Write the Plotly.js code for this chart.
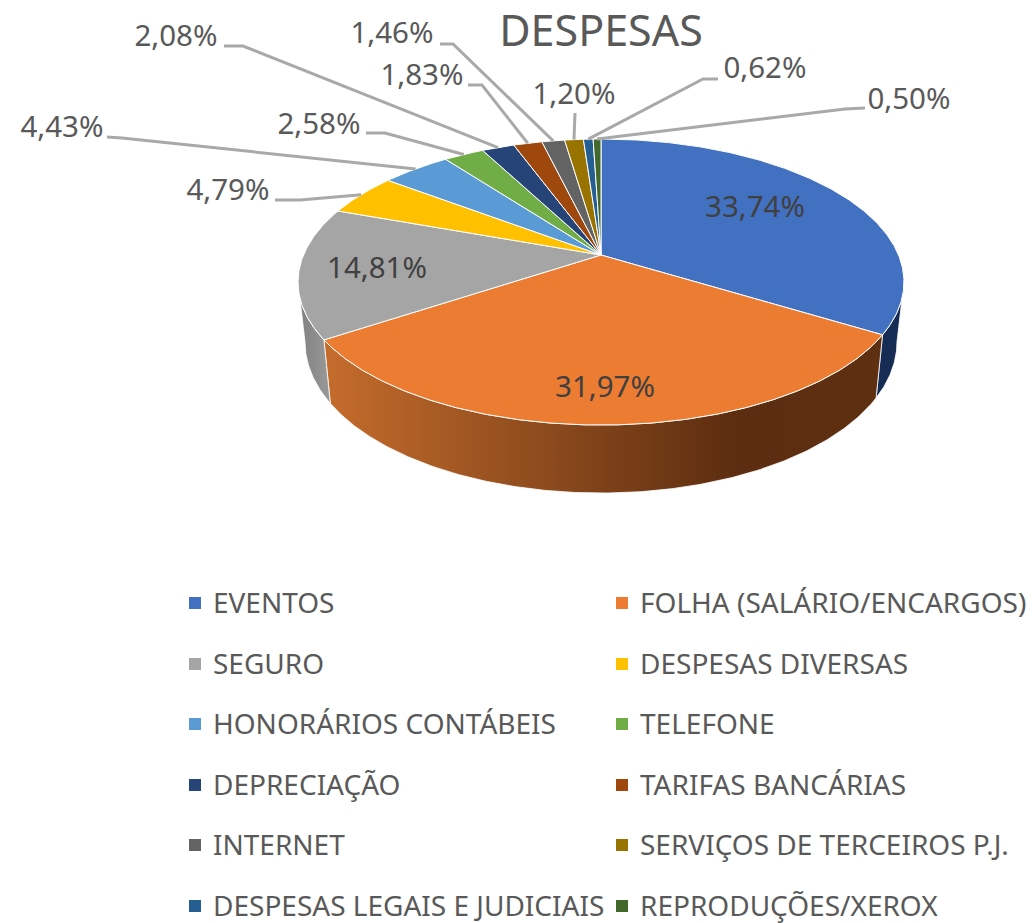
<!DOCTYPE html>
<html>
<head>
<meta charset="utf-8">
<script src="https://cdn.plot.ly/plotly-3.0.1.min.js"></script>
<style>html,body{margin:0;padding:0;background:#fff}#chart{width:1036px;height:923px}</style>
</head>
<body>
<div id="chart"></div>
<script>
// ---- data ----
const categories = ["EVENTOS","FOLHA (SALÁRIO/ENCARGOS)","SEGURO","DESPESAS DIVERSAS","HONORÁRIOS CONTÁBEIS","TELEFONE","DEPRECIAÇÃO","TARIFAS BANCÁRIAS","INTERNET","SERVIÇOS DE TERCEIROS P.J.","DESPESAS LEGAIS E JUDICIAIS","REPRODUÇÕES/XEROX"];
const percentages = [33.74,31.97,14.81,4.79,4.43,2.58,2.08,1.83,1.46,1.20,0.62,0.50];
const colors = ["#4371C2","#EB7C31","#A5A5A5","#FFC000","#5B9BD5","#70AD47","#264478","#9E480E","#636363","#997300","#255E91","#43682B"];

// ---- layout of the drawing ----
const apexX = 601, apexY = 255, scaleX = 297.5, scaleY = 137.9, persp = 0.189;
const labelX = [755,605,377,228,62,319,176,422,392,574,765,909];
const labelY = [210,390,271,193,130,127,39,78,36,97,71,102];
const leaderX = [null,null,null,[275,300],[107,122],[366,385],[224,243],[468,482],[440,453],[575],[718,703],[865,845]];
const leaderY = [null,null,null,[200,200],[137,138],[133,133],[46,46],[85,85],[44,44],[113],[79,79],[108,109]];
const legendColX = [189,616];
const legendRowY = [603,664,724,785,845,906];
const FONT = '"Noto Sans", sans-serif';
const TXT = '#595959';

function project(deg, drop) {
  const t = deg * Math.PI / 180, u = Math.sin(t), v = Math.cos(t), w = 1 + persp * v;
  const depth = drop ? 58 + 10 * Math.max(0, -v) : 0;
  const shrink = drop ? 0.977 : 1;
  return [apexX + shrink * scaleX * u / w, apexY - scaleY * v / w + depth];
}
function arc(a, b, drop) {
  const n = Math.max(2, Math.ceil(Math.abs(b - a) * 2));
  const xs = [], ys = [];
  for (let i = 0; i <= n; i++) {
    const p = project(a + (b - a) * i / n, drop);
    xs.push(p[0]); ys.push(p[1]);
  }
  return [xs, ys];
}

const total = percentages.reduce((s, p) => s + p, 0);
const edges = [0];
percentages.forEach(p => edges.push(edges[edges.length - 1] + p / total * 360));

const traces = [];
const common = {type: 'scatter', mode: 'lines', fill: 'toself', hoverinfo: 'skip', showlegend: false};

// side wall
const silhouette = Math.acos(-persp) * 180 / Math.PI;
function wall(a, b, style) {
  const top = arc(a, b, false), bot = arc(b, a, true);
  traces.push(Object.assign({}, common, {
    x: top[0].concat(bot[0], [top[0][0]]),
    y: top[1].concat(bot[1], [top[1][0]]),
    line: {color: 'rgba(255,255,255,0.8)', width: 1}
  }, style));
}
wall(silhouette, edges[1], {fillcolor: '#172C55'});
wall(edges[1], edges[2], {fillgradient: {type: 'horizontal', colorscale: [[0,'#C56C2C'],[0.74,'#5C2D10'],[1,'#5E2F11']]}});
wall(edges[2], 360 - silhouette, {fillgradient: {type: 'horizontal', colorscale: [[0,'#7F7F7F'],[1,'#9A9A9A']]}});

// top face
percentages.forEach((p, i) => {
  const a = arc(edges[i], edges[i + 1], false);
  traces.push(Object.assign({}, common, {
    name: categories[i],
    x: [apexX].concat(a[0], [apexX]),
    y: [apexY].concat(a[1], [apexY]),
    fillcolor: colors[i],
    line: {color: '#FFFFFF', width: 1},
    hoverinfo: 'name'
  }));
});

// leader lines
percentages.forEach((p, i) => {
  if (!leaderX[i]) return;
  const end = project((edges[i] + edges[i + 1]) / 2, false);
  traces.push({type: 'scatter', mode: 'lines', hoverinfo: 'skip', showlegend: false,
    x: leaderX[i].concat([end[0]]), y: leaderY[i].concat([end[1]]),
    line: {color: '#A9A9A9', width: 3}});
});

// data labels
const pctText = percentages.map(p => p.toFixed(2).replace('.', ',') + '%');
traces.push({type: 'scatter', mode: 'text', hoverinfo: 'skip', showlegend: false,
  x: labelX, y: labelY, text: pctText, textposition: 'middle center',
  textfont: {family: FONT, size: 29.5, color: percentages.map((p, i) => i < 3 ? '#404040' : TXT)}});

// legend
categories.forEach((c, i) => {
  const cx = legendColX[i % 2], ry = legendRowY[Math.floor(i / 2)];
  traces.push({type: 'scatter', mode: 'markers', hoverinfo: 'skip', showlegend: false, name: c,
    x: [cx + 6], y: [ry], marker: {symbol: 'square', size: 12, color: colors[i], line: {width: 0}}});
  traces.push({type: 'scatter', mode: 'text', hoverinfo: 'skip', showlegend: false,
    x: [cx + 24], y: [ry + 3], text: [c], textposition: 'middle right',
    textfont: {family: FONT, size: 28, color: TXT}});
});

const hidden = {visible: false, fixedrange: true};
Plotly.newPlot('chart', traces, {
  width: 1036, height: 923,
  margin: {l: 0, r: 0, t: 0, b: 0},
  paper_bgcolor: '#fff', plot_bgcolor: '#fff',
  title: {text: 'DESPESAS', x: 601 / 1036, xanchor: 'center', y: 1 - 31 / 923, yanchor: 'middle',
          font: {family: FONT, size: 43, color: TXT}},
  xaxis: Object.assign({range: [0, 1036]}, hidden),
  yaxis: Object.assign({range: [923, 0]}, hidden),
  showlegend: false
}, {displayModeBar: false});
</script>
</body>
</html>
